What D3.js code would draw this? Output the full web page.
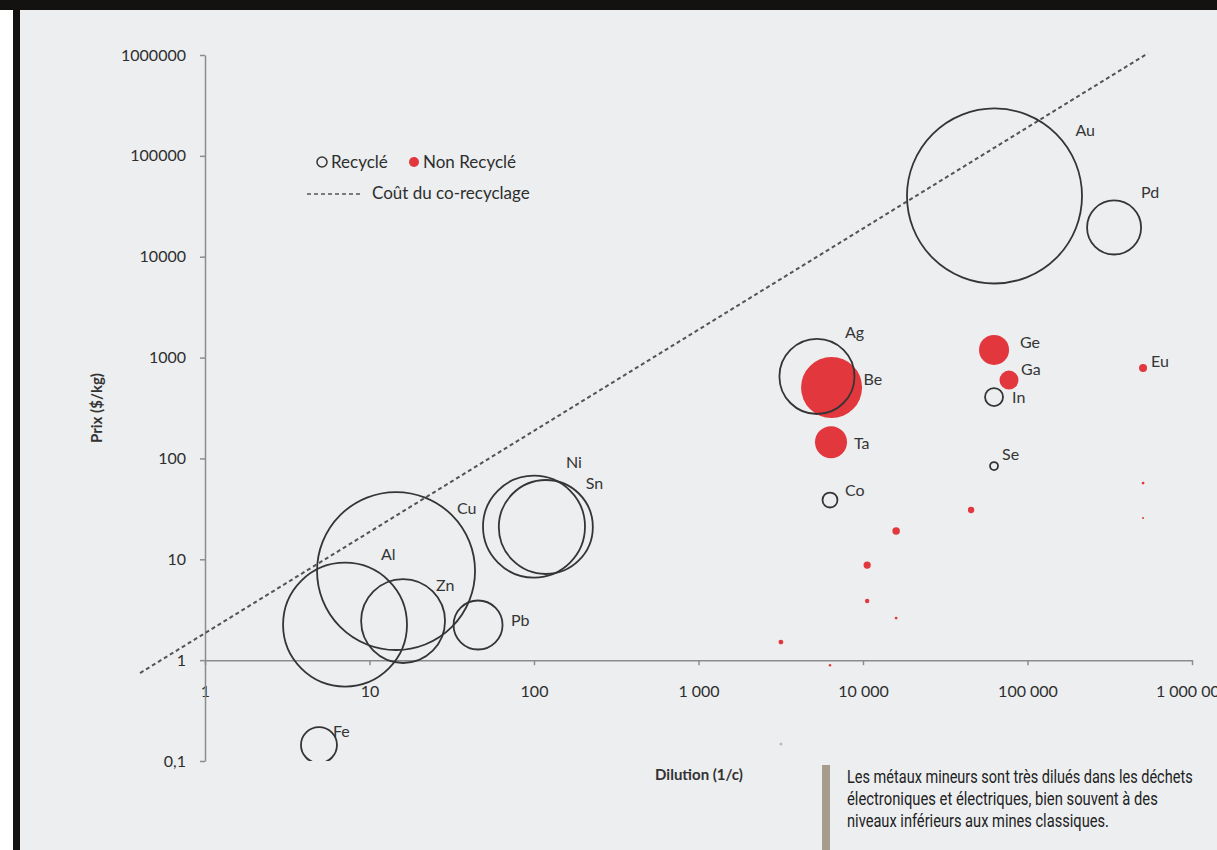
<!DOCTYPE html>
<html><head><meta charset="utf-8">
<script src="https://cdn.jsdelivr.net/npm/d3@7"></script>
<style>body{margin:0;background:#fff;} svg{display:block;}</style>
</head><body><svg id="c" width="1217" height="850"></svg>
<script>
// ---------- DATA ----------
const recycledNames    = ["Au", "Pd", "Ag", "Co", "In", "Se", "Cu", "Al", "Zn", "Pb", "Ni", "Sn", "Fe", ""];
const recycledDilution = [63000, 336000, 5250, 6300, 62600, 62600, 14.5, 7.1, 16, 45.7, 100, 118, 4.93, 3170];
const recycledPrice    = [40000, 19500, 650, 38.7, 406, 84, 7.65, 2.25, 2.44, 2.23, 21.1, 20.9, 0.144, 0.147];
const recycledSize     = [76.6, 7.3, 14.1, 0.56, 0.81, 0.16, 62.4, 38.4, 17.6, 6.0, 26, 22.1, 3.24, 0.01];

const nonRecycledNames    = ["Be", "Ta", "Ge", "Ga", "Eu", "", "", "", "", "", "", "", "", ""];
const nonRecycledDilution = [6440, 6390, 62600, 77200, 504000, 3170, 6300, 10600, 10600, 15900, 15900, 45400, 504000, 504000];
const nonRecycledPrice    = [505, 145, 1190, 598, 788, 1.51, 0.89, 8.77, 3.85, 19.05, 2.61, 30.8, 57, 25.6];
const nonRecycledSize     = [9.3, 2.56, 2.25, 0.9, 0.16, 0.06, 0.015, 0.13, 0.05, 0.14, 0.02, 0.1, 0.02, 0.01];

const costDilution = [0.403, 540000];
const costPrice    = [0.745, 1040000];

const xTicks      = [1, 10, 100, 1000, 10000, 100000, 1000000];
const xTickLabels = ["1", "10", "100", "1 000", "10 000", "100 000", "1 000 000"];
const yTicks      = [1000000, 100000, 10000, 1000, 100, 10, 1, 0.1];
const yTickLabels = ["1000000", "100000", "10000", "1000", "100", "10", "1", "0,1"];

const legendLabels = ["Recyclé", "Non Recyclé", "Coût du co-recyclage"];
const xTitle = "Dilution (1/c)";
const yTitle = "Prix ($/kg)";
const captionLines = [
  "Les métaux mineurs sont très dilués dans les déchets",
  "électroniques et électriques, bien souvent à des",
  "niveaux inférieurs aux mines classiques."
];

// ---------- LAYOUT / STYLE ----------
const W = 1217, H = 850;
const FONT = "Lato, 'Open Sans', sans-serif";
const RED = "#e2373c", INK = "#353535", AXIS = "#8c8c8c", BG = "#eceef0";
const labelNudge = {
  Au: [81, -66], Pd: [27, -35], Ag: [28, -44], Be: [32, -8], Ta: [23, 1], Co: [15, -10],
  Ge: [26, -8], Ga: [12, -11], In: [18, 0], Se: [8, -12], Eu: [8, -7],
  Cu: [61, -63], Al: [36, -70], Zn: [33, -36], Pb: [33, -5], Ni: [32, -64], Sn: [40, -44], Fe: [14, -14]
};

const svg = d3.select("#c");
svg.append("rect").attr("width", W).attr("height", H).attr("fill", "#ffffff");
svg.append("rect").attr("x", 20).attr("y", 10).attr("width", W - 20).attr("height", H - 10).attr("fill", BG);
svg.append("rect").attr("x", 0).attr("y", 0).attr("width", W).attr("height", 10).attr("fill", "#141210");
svg.append("rect").attr("x", 13).attr("y", 10).attr("width", 7).attr("height", H - 10).attr("fill", "#141210");

const x = d3.scaleLog().domain([1, 1e6]).range([205, 1192]);
const y = d3.scaleLog().domain([0.1, 1e6]).range([761, 55]);
const r = d3.scaleSqrt().domain([0, 100]).range([0, 100]);

svg.append("clipPath").attr("id", "plotclip").append("rect")
  .attr("x", 205).attr("y", 55).attr("width", 990).attr("height", 706);

// axes
const xAxis = svg.append("g").attr("transform", `translate(0,${y(1)})`)
  .call(d3.axisBottom(x).tickValues(xTicks).tickFormat((d, i) => xTickLabels[i]).tickSize(5).tickSizeOuter(0).tickPadding(20));
const yAxis = svg.append("g").attr("transform", `translate(205,0)`)
  .call(d3.axisLeft(y).tickValues(yTicks).tickFormat((d, i) => yTickLabels[i]).tickSize(5).tickSizeOuter(0).tickPadding(14));
[xAxis, yAxis].forEach(g => {
  g.select(".domain").attr("stroke", AXIS).attr("stroke-width", 1.5);
  g.selectAll(".tick line").attr("stroke", AXIS).attr("stroke-width", 1.5);
  g.selectAll(".tick text").attr("fill", "#2e2e2e").style("font-family", FONT).style("font-size", "16px");
});

// cost line
const costData = costDilution.map((d, i) => [d, costPrice[i]]);
svg.append("path").datum(costData)
  .attr("d", d3.line().x(d => x(d[0])).y(d => y(d[1])))
  .attr("fill", "none").attr("stroke", "#555").attr("stroke-width", 2).attr("stroke-dasharray", "4 3");

// bubbles
const nonRec = nonRecycledNames.map((n, i) => ({ n, x: nonRecycledDilution[i], y: nonRecycledPrice[i], s: nonRecycledSize[i] }));
const rec = recycledNames.map((n, i) => ({ n, x: recycledDilution[i], y: recycledPrice[i], s: recycledSize[i] }));
const bub = svg.append("g").attr("clip-path", "url(#plotclip)");
bub.selectAll("circle.nr").data(nonRec).join("circle").attr("class", "nr")
  .attr("cx", d => x(d.x)).attr("cy", d => y(d.y)).attr("r", d => r(d.s))
  .attr("fill", RED);
bub.selectAll("circle.rc").data(rec).join("circle").attr("class", "rc")
  .attr("cx", d => x(d.x)).attr("cy", d => y(d.y)).attr("r", d => r(d.s))
  .attr("fill", "none").attr("stroke", d => d.n ? INK : "#aaa").attr("stroke-width", d => d.n ? 1.8 : 1);

// labels
svg.append("g").selectAll("text").data(rec.concat(nonRec).filter(d => d.n)).join("text")
  .attr("x", d => x(d.x) + labelNudge[d.n][0])
  .attr("y", d => y(d.y) + labelNudge[d.n][1])
  .attr("dy", "0.35em")
  .attr("fill", INK).style("font-family", FONT).style("font-size", "16px")
  .text(d => d.n);

// legend
const lg = svg.append("g").style("font-family", FONT).style("font-size", "17px").attr("fill", "#2e2e2e");
lg.append("circle").attr("cx", 322).attr("cy", 162).attr("r", 5).attr("fill", "none").attr("stroke", INK).attr("stroke-width", 1.5);
lg.append("text").attr("x", 331).attr("y", 162).attr("dy", "0.35em").text(legendLabels[0]);
lg.append("circle").attr("cx", 414).attr("cy", 162).attr("r", 5).attr("fill", RED);
lg.append("text").attr("x", 423).attr("y", 162).attr("dy", "0.35em").text(legendLabels[1]);
lg.append("line").attr("x1", 307).attr("x2", 360).attr("y1", 194).attr("y2", 194)
  .attr("stroke", "#555").attr("stroke-width", 1.5).attr("stroke-dasharray", "4 3");
lg.append("text").attr("x", 372).attr("y", 193).attr("dy", "0.35em").text(legendLabels[2]);

// axis titles
svg.append("text").attr("x", 699).attr("y", 775).attr("dy", "0.35em").attr("text-anchor", "middle")
  .style("font-family", FONT).style("font-size", "15px").style("font-weight", "bold").attr("fill", "#333").text(xTitle);
svg.append("text").attr("transform", "translate(97,408) rotate(-90)").attr("dy", "0.35em").attr("text-anchor", "middle")
  .style("font-family", FONT).style("font-size", "15px").style("font-weight", "bold").attr("fill", "#333").text(yTitle);

// caption (condensed look via horizontal scaling)
svg.append("rect").attr("x", 822).attr("y", 765).attr("width", 8).attr("height", H - 765).attr("fill", "#a59c8c");
const capLen = [346, 311, 262];
const cap = svg.append("g");
captionLines.forEach((line, i) => {
  const t = cap.append("text")
    .attr("x", 0).attr("y", 0)
    .style("font-family", "'Roboto', 'Liberation Sans', sans-serif").style("font-size", "19px")
    .attr("fill", "#222").text(line);
  const w = t.node().getComputedTextLength();
  const k = capLen[i] / w;
  t.attr("transform", `translate(847,${783 + i * 22}) scale(${k},1)`);
});
</script>
</body></html>
